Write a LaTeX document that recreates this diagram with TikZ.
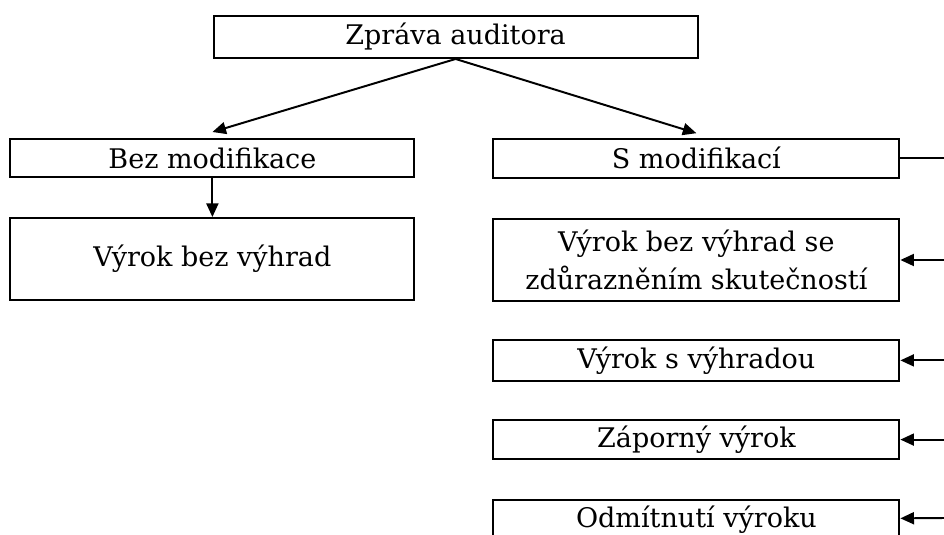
\documentclass[tikz,border=0pt]{standalone}
\usepackage{fontspec}
\setmainfont{DejaVu Serif}
\usepackage{tikz}
\usetikzlibrary{arrows.meta}
\usetikzlibrary{positioning}

\begin{document}
\begin{tikzpicture}[
    every node/.style={rectangle, draw, line width=1.4pt, inner sep=0pt, font=\fontsize{19.2}{27}\selectfont, align=center},
    conn/.style={line width=1.4pt, -{Triangle[length=0.34cm, width=0.3cm]}},
    plain/.style={line width=1.4pt},
  ]

  \useasboundingbox (0,0) rectangle (23.6,-13.375);
  \clip (0,0) rectangle (23.6,-13.375);

  % Nodes
  \node[minimum width=12.1cm, minimum height=1.05cm] (zprava) at (11.39, -0.925) {Zpráva auditora};
  \node[minimum width=10.1cm, minimum height=0.95cm] (bez)    at (5.31, -3.95)   {Bez modifikace};
  \node[minimum width=10.1cm, minimum height=2.05cm] (bezvyh) at (5.31, -6.475)  {Výrok bez výhrad};
  \node[minimum width=10.15cm, minimum height=0.97cm] (smod)  at (17.41, -3.96)  {S modifikací};
  \node[minimum width=10.15cm, minimum height=2.05cm] (zdur)  at (17.41, -6.5)   {Výrok bez výhrad se\\zdůrazněním skutečností};
  \node[minimum width=10.15cm, minimum height=1.02cm] (svyh)  at (17.41, -9.01)  {Výrok s výhradou};
  \node[minimum width=10.15cm, minimum height=0.97cm] (zap)   at (17.41, -10.99) {Záporný výrok};
  \node[minimum width=10.15cm, minimum height=1.0cm]  (odm)   at (17.41, -13.0)  {Odmítnutí výroku};

  % Right side line
  \coordinate (r0) at (23.6, -3.96);
  \coordinate (r1) at (23.6, -6.5);
  \coordinate (r2) at (23.6, -9.01);
  \coordinate (r3) at (23.6, -10.99);
  \coordinate (r4) at (23.6, -12.95);

  % Edges
  \draw[conn] (zprava.south) -- ([yshift=0.15cm]bez.north);
  \draw[conn] (zprava.south) -- ([yshift=0.12cm]smod.north);
  \draw[conn] (bez) -- (bezvyh);
  \draw[plain] (smod) -- (r0);
  \draw[conn] (r1) -- (zdur);
  \draw[conn] (r2) -- (svyh);
  \draw[conn] (r3) -- (zap);
  \draw[conn] (r4) -- (odm);

\end{tikzpicture}
\end{document}
